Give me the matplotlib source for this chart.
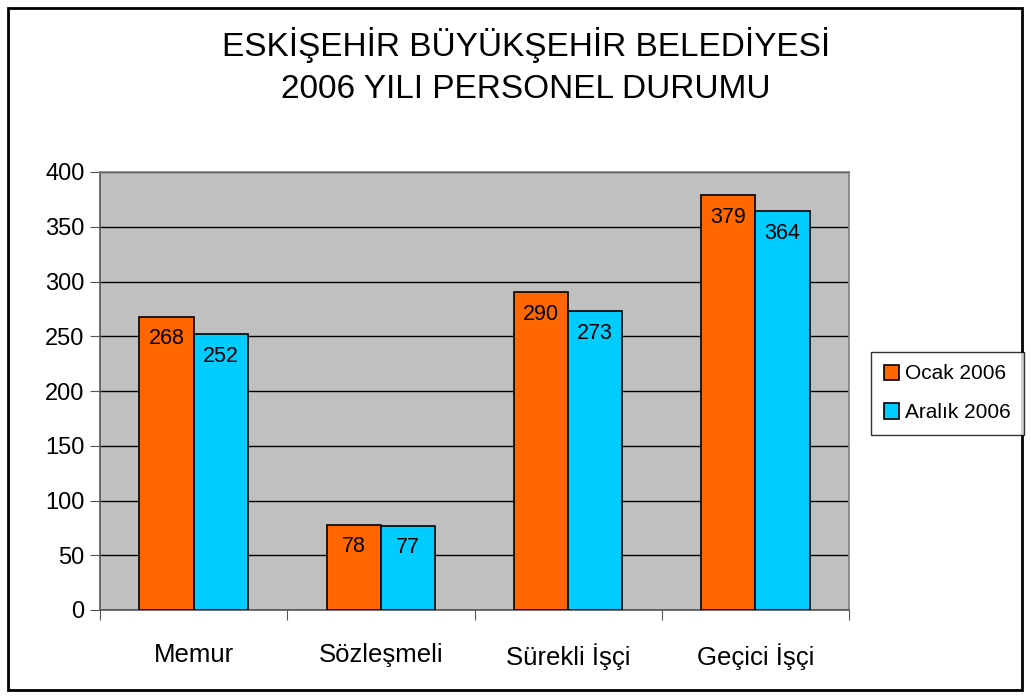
import matplotlib.pyplot as plt
import numpy as np
from matplotlib.patches import Rectangle

categories = ['Memur', 'Sözleşmeli', 'Sürekli İşçi', 'Geçici İşçi']
ocak = [268, 78, 290, 379]
aralik = [252, 77, 273, 364]
series_names = ['Ocak 2006', 'Aralık 2006']

plt.rcParams['font.family'] = ['Liberation Sans', 'DejaVu Sans']

fig = plt.figure(figsize=(10.31, 6.98), dpi=100)
ax = fig.add_axes([100/1031, 1-610/698, 749/1031, 438/698])
ax.set_facecolor('#C0C0C0')

x = np.arange(len(categories))
w = 0.29
b1 = ax.bar(x - w/2, ocak, w, color='#FF6600', edgecolor='black', linewidth=1.2,
            label=series_names[0], zorder=3)
b2 = ax.bar(x + w/2, aralik, w, color='#00CCFF', edgecolor='black', linewidth=1.2,
            label=series_names[1], zorder=3)

for bars in (b1, b2):
    for r in bars:
        ax.annotate(f'{int(r.get_height())}', (r.get_x() + r.get_width()/2, r.get_height()),
                    xytext=(0, -16), textcoords='offset points', ha='center', va='center',
                    fontsize=15.5, zorder=4)

ax.set_ylim(0, 400)
ax.set_xlim(-0.5, 3.5)
ax.set_yticks(range(0, 401, 50))
ax.yaxis.grid(True, color='black', linewidth=1)
ax.set_axisbelow(True)
ax.tick_params(axis='y', labelsize=17, length=7, color='#555555', pad=4)

ax.set_xticks(np.arange(-0.5, 4, 1))
ax.set_xticklabels([])
ax.set_xticks(x, minor=True)
ax.set_xticklabels(categories, minor=True, fontsize=18.5)
ax.tick_params(axis='x', which='major', length=7, color='#555555')
ax.tick_params(axis='x', which='minor', length=0, pad=24)

for s in ['top', 'right']:
    ax.spines[s].set_color('#808080')
for s in ['left', 'bottom']:
    ax.spines[s].set_color('#555555')
for s in ax.spines.values():
    s.set_linewidth(1.2)

fig.text(0.51, 1-45/698, 'ESKİŞEHİR BÜYÜKŞEHİR BELEDİYESİ', ha='center', va='center', fontsize=24)
fig.text(0.51, 1-89/698, '2006 YILI PERSONEL DURUMU', ha='center', va='center', fontsize=24)

leg = fig.legend(loc='upper left', bbox_to_anchor=(871/1031, 1-352/698), fontsize=15,
                 frameon=True, fancybox=False, edgecolor='black', handlelength=0.75,
                 handleheight=0.75, handletextpad=0.3, borderpad=0.6, labelspacing=0.95,
                 borderaxespad=0)
leg.get_frame().set_linewidth(1)

fig.patches.append(Rectangle((8/1031, 8/698), 1014/1031, 682/698, transform=fig.transFigure,
                             fill=False, edgecolor='black', linewidth=2))

fig.savefig('out.png', dpi=100, facecolor='white')
